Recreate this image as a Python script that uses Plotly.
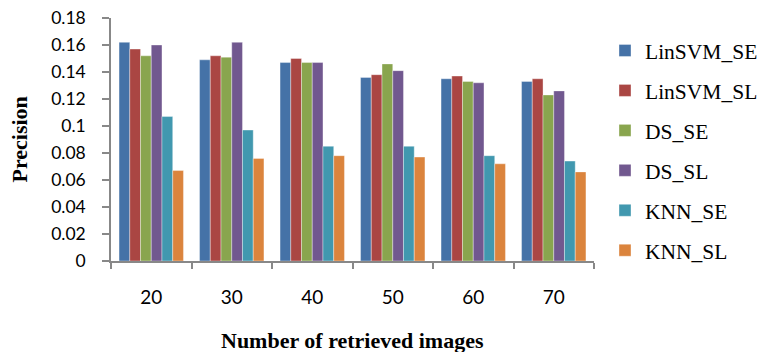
import plotly.graph_objects as go

categories = ["20", "30", "40", "50", "60", "70"]
series_names = ["LinSVM_SE", "LinSVM_SL", "DS_SE", "DS_SL", "KNN_SE", "KNN_SL"]
linsvm_se = [0.162, 0.149, 0.147, 0.136, 0.135, 0.133]
linsvm_sl = [0.157, 0.152, 0.150, 0.138, 0.137, 0.135]
ds_se = [0.152, 0.151, 0.147, 0.146, 0.133, 0.123]
ds_sl = [0.160, 0.162, 0.147, 0.141, 0.132, 0.126]
knn_se = [0.107, 0.097, 0.085, 0.085, 0.078, 0.074]
knn_sl = [0.067, 0.076, 0.078, 0.077, 0.072, 0.066]
y_ticks = [0, 0.02, 0.04, 0.06, 0.08, 0.1, 0.12, 0.14, 0.16, 0.18]

series_values = [linsvm_se, linsvm_sl, ds_se, ds_sl, knn_se, knn_sl]
colors = ["#4572A7", "#AA4643", "#89A54E", "#71588F", "#4198AF", "#DB843D"]

fig = go.Figure()
for name, vals, col in zip(series_names, series_values, colors):
    fig.add_trace(go.Bar(
        x=categories, y=vals, name=name, legendgroup=name,
        marker=dict(color=col, line=dict(color="rgba(255,255,255,0.6)", width=0.6)),
    ))

W, H = 759, 352
L, R, T, B = 111, 594, 18, 261
pw, ph = R - L, B - T

fig.update_layout(
    width=W, height=H,
    margin=dict(l=L, r=W - R, t=T, b=H - B, autoexpand=False),
    paper_bgcolor="white", plot_bgcolor="white",
    barmode="group", bargap=0.2, bargroupgap=0,
    showlegend=True,
    legend=dict(
        x=(605 - L) / pw, xanchor="left", y=1 - (30 - T) / ph, yanchor="top",
        font=dict(family="Liberation Serif", size=21.5, color="black"),
        tracegroupgap=9, itemwidth=30, bgcolor="rgba(0,0,0,0)",
    ),
    xaxis=dict(
        type="category", showline=True, linecolor="#888888", linewidth=1.5,
        ticks="outside", tickson="boundaries", ticklen=6, tickcolor="#888888", tickwidth=1.5,
        tickfont=dict(family="Lato", size=19, color="black"),
        ticklabelstandoff=18, showgrid=False, zeroline=False, fixedrange=True,
    ),
    yaxis=dict(
        range=[0, 0.18], tickvals=y_ticks, showline=True, linecolor="#888888", linewidth=1.5,
        ticks="outside", ticklen=7, tickcolor="#888888", tickwidth=1.5,
        tickfont=dict(family="Lato", size=17.5, color="black"),
        ticklabelstandoff=13, showgrid=False, zeroline=False, fixedrange=True,
    ),
    annotations=[
        dict(text="<b>Precision</b>", xref="paper", yref="paper",
             x=(19 - L) / pw, y=0.5, xanchor="center", yanchor="middle",
             textangle=-90, showarrow=False,
             font=dict(family="Liberation Serif", size=22, color="black")),
        dict(text="<b>Number of retrieved images</b>", xref="paper", yref="paper",
             x=0.5, y=-(340 - B) / ph, xanchor="center", yanchor="middle",
             showarrow=False,
             font=dict(family="Liberation Serif", size=22, color="black")),
    ],
)

fig.write_html(
    "out.html",
    config={"displayModeBar": False},
    post_script="document.body.style.margin='0';document.body.style.overflow='hidden';",
)
